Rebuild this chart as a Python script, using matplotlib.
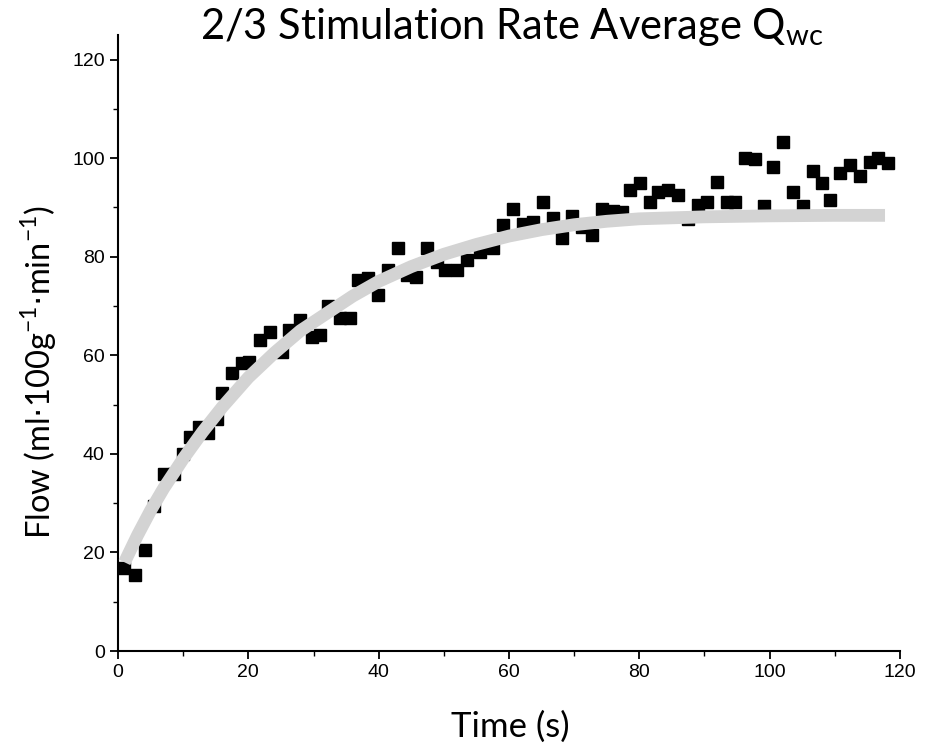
import numpy as np
import matplotlib
matplotlib.use('Agg')
import matplotlib.pyplot as plt
from matplotlib.ticker import MultipleLocator

time_s = [0.9, 2.6, 4.1, 5.6, 7.0, 8.6, 10.0, 11.0, 12.4, 13.8, 15.2, 15.9, 17.5, 19.0, 20.1,
          21.8, 23.3, 25.2, 26.2, 27.9, 29.8, 31.0, 32.3, 34.1, 35.6, 36.8, 38.4, 39.9, 41.4,
          43.0, 44.4, 45.8, 47.4, 48.9, 50.2, 52.0, 53.6, 55.5, 57.5, 59.1, 60.6, 62.1, 63.7,
          65.2, 66.7, 68.1, 69.7, 71.2, 72.7, 74.3, 76.0, 77.3, 78.6, 80.1, 81.6, 82.9, 84.4,
          85.9, 87.4, 89.0, 90.4, 91.9, 93.5, 94.7, 96.2, 97.7, 99.1, 100.5, 102.0, 103.6,
          105.1, 106.6, 108.0, 109.3, 110.8, 112.3, 113.9, 115.4, 116.6, 118.1]
flow = [16.9, 15.4, 20.5, 29.5, 36.0, 36.0, 40.0, 43.5, 45.5, 44.3, 47.0, 52.4, 56.4, 58.5, 58.7,
        63.1, 64.8, 60.7, 65.2, 67.2, 63.8, 64.2, 70.0, 67.6, 67.6, 75.3, 75.7, 72.3, 77.4,
        81.8, 76.3, 75.9, 81.8, 79.0, 77.4, 77.4, 79.4, 81.0, 81.8, 86.5, 89.7, 86.7, 87.1,
        91.2, 87.9, 83.9, 88.3, 86.0, 84.5, 89.7, 89.3, 89.1, 93.6, 95.0, 91.2, 93.2, 93.6,
        92.6, 87.6, 90.6, 91.2, 95.2, 91.2, 91.2, 100.1, 99.9, 90.4, 98.3, 103.3, 93.2,
        90.4, 97.5, 95.0, 91.6, 96.9, 98.7, 96.4, 99.3, 100.1, 99.1]

# fitted curve (grey band)
fit_t = [1, 3, 5, 7, 10, 13, 16, 20, 24, 28, 32, 36, 40, 45, 50, 55, 60, 65, 70, 75, 80,
         90, 100, 110, 117.7]
fit_y = [18.0, 23.5, 28.5, 33.0, 39.0, 44.5, 49.5, 55.5, 60.5, 65.0, 68.5, 72.0, 75.0, 78.0,
         80.5, 82.5, 84.2, 85.5, 86.5, 87.2, 87.7, 88.1, 88.3, 88.4, 88.4]

fig = plt.figure(figsize=(9.29, 7.52), dpi=100)
ax = fig.add_axes([118/929, 1-651/752, (900-118)/929, (651-35)/752])

ax.plot(time_s, flow, 's', color='black', markersize=8.5, zorder=2)
ax.plot(fit_t, fit_y, '-', color='#d3d3d3', linewidth=9.2, solid_capstyle='butt', zorder=3)

ax.set_xlim(0, 120)
ax.set_ylim(0, 125)
ax.xaxis.set_major_locator(MultipleLocator(20))
ax.xaxis.set_minor_locator(MultipleLocator(10))
ax.yaxis.set_major_locator(MultipleLocator(20))
ax.yaxis.set_minor_locator(MultipleLocator(10))
ax.spines['top'].set_visible(False)
ax.spines['right'].set_visible(False)
for s in ['left', 'bottom']:
    ax.spines[s].set_linewidth(1.5)
ax.tick_params(which='major', direction='out', length=6, width=1.3, labelsize=14)
ax.tick_params(which='minor', direction='out', length=3.5, width=1.0)
for lbl in ax.get_xticklabels() + ax.get_yticklabels():
    lbl.set_family('Liberation Sans')

fig.text(0.551, 0.992, r'2/3 Stimulation Rate Average Q$_\mathregular{wc}$',
         ha='center', va='top', fontsize=30, family='Lato')
fig.text(0.549, 0.012, 'Time (s)', ha='center', va='bottom', fontsize=25, family='Lato')
fig.text(0.02, 0.505, r'Flow (ml$\cdot$100g$^\mathregular{-1}$$\cdot$min$^\mathregular{-1}$)',
         ha='left', va='center', rotation=90, fontsize=23.5, family='Lato')

fig.savefig('out.png', dpi=100)
